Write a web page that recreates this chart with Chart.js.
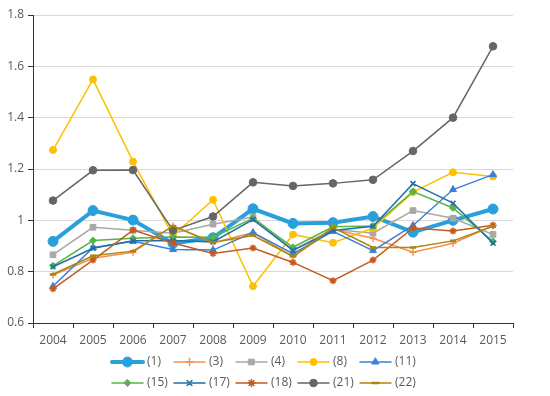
<!DOCTYPE html>
<html>
<head>
<meta charset="utf-8">
<script src="https://cdn.jsdelivr.net/npm/chart.js@4.4.1/dist/chart.umd.min.js"></script>
<style>
html,body{margin:0;padding:0;background:#fff;}
canvas{display:block;}
</style>
</head>
<body>
<canvas id="c" width="550" height="396"></canvas>
<script>
// ---- data ----
const categories = ['2004','2005','2006','2007','2008','2009','2010','2011','2012','2013','2014','2015'];
const yTicks = [0.6, 0.8, 1, 1.2, 1.4, 1.6, 1.8];
const seriesNames = ['(1)','(3)','(4)','(8)','(11)','(15)','(17)','(18)','(21)','(22)'];
const s1  = [0.918, 1.038, 1.001, 0.910, 0.932, 1.045, 0.988, 0.991, 1.015, 0.954, 1.000, 1.044];
const s3  = [0.787, 0.852, 0.876, 0.978, 0.913, 0.952, 0.858, 0.965, 0.930, 0.876, 0.911, 0.979];
const s4  = [0.866, 0.973, 0.961, 0.950, 0.985, 1.013, 0.884, 0.965, 0.950, 1.038, 1.008, 0.945];
const s8  = [1.274, 1.549, 1.229, 0.940, 1.080, 0.743, 0.945, 0.913, 0.969, 1.110, 1.187, 1.171];
const s11 = [0.743, 0.893, 0.918, 0.886, 0.884, 0.952, 0.870, 0.957, 0.882, 0.980, 1.120, 1.178];
const s15 = [0.823, 0.921, 0.930, 0.935, 0.934, 1.008, 0.895, 0.975, 0.978, 1.112, 1.048, 0.918];
const s17 = [0.819, 0.891, 0.920, 0.921, 0.916, 1.003, 0.883, 0.960, 0.977, 1.143, 1.067, 0.911];
const s18 = [0.733, 0.845, 0.962, 0.912, 0.871, 0.892, 0.836, 0.765, 0.845, 0.970, 0.958, 0.981];
const s21 = [1.077, 1.195, 1.196, 0.961, 1.015, 1.148, 1.134, 1.144, 1.158, 1.270, 1.400, 1.678];
const s22 = [0.790, 0.862, 0.880, 0.978, 0.914, 0.941, 0.860, 0.972, 0.894, 0.894, 0.920, 0.977];
const seriesValues = [s1, s3, s4, s8, s11, s15, s17, s18, s21, s22];

// ---- styles ----
const colors  = ['#29A0DC','#F5914F','#A8A8A8','#FFC000','#3A80D6','#57B446','#1F70A6','#C65A1E','#666666','#AE850E'];
const styles  = ['circle','cross','rect','circle','triangle','rectRot','crossRot','star','circle','line'];
const radii   = [5, 3.5, 4, 3.5, 4, 3.5, 3.5, 3.5, 3.8, 3];
const lineW   = [4, 1.5, 1.5, 1.5, 1.5, 1.5, 1.5, 1.5, 1.5, 1.5];
const ptBW    = [1, 1.5, 1, 1, 1, 1, 1.5, 1.5, 1, 2.5];
const textColor = '#595959';
const axisColor = '#333333';
const gridColor = '#D9D9D9';
const FONT = "'Open Sans', sans-serif";

Chart.defaults.font.family = FONT;
Chart.defaults.font.size = 12;
Chart.defaults.color = textColor;

const datasets = seriesNames.map((name, i) => ({
  label: name,
  data: seriesValues[i],
  borderColor: colors[i],
  backgroundColor: colors[i],
  pointBackgroundColor: colors[i],
  pointBorderColor: colors[i],
  pointStyle: styles[i],
  pointRadius: radii[i],
  pointBorderWidth: ptBW[i],
  borderWidth: lineW[i],
  tension: 0,
  fill: false,
  order: 20 - i
}));

function drawMarker(ctx, style, x, y, r, color, bw) {
  ctx.save();
  ctx.fillStyle = color; ctx.strokeStyle = color; ctx.lineWidth = bw;
  ctx.beginPath();
  switch (style) {
    case 'circle': ctx.arc(x, y, r, 0, Math.PI * 2); ctx.fill(); ctx.stroke(); break;
    case 'rect': { const s = r * Math.SQRT1_2; ctx.rect(x - s, y - s, 2 * s, 2 * s); ctx.fill(); ctx.stroke(); break; }
    case 'triangle':
      ctx.moveTo(x, y - r); ctx.lineTo(x + 0.866 * r, y + 0.5 * r); ctx.lineTo(x - 0.866 * r, y + 0.5 * r);
      ctx.closePath(); ctx.fill(); ctx.stroke(); break;
    case 'rectRot':
      ctx.moveTo(x, y - r); ctx.lineTo(x + r, y); ctx.lineTo(x, y + r); ctx.lineTo(x - r, y);
      ctx.closePath(); ctx.fill(); ctx.stroke(); break;
    case 'cross':
      ctx.moveTo(x, y - r); ctx.lineTo(x, y + r); ctx.moveTo(x - r, y); ctx.lineTo(x + r, y); ctx.stroke(); break;
    case 'crossRot': { const d = r * Math.SQRT1_2;
      ctx.moveTo(x - d, y - d); ctx.lineTo(x + d, y + d); ctx.moveTo(x + d, y - d); ctx.lineTo(x - d, y + d); ctx.stroke(); break; }
    case 'star': { const d = r * Math.SQRT1_2;
      ctx.moveTo(x, y - r); ctx.lineTo(x, y + r); ctx.moveTo(x - r, y); ctx.lineTo(x + r, y);
      ctx.moveTo(x - d, y - d); ctx.lineTo(x + d, y + d); ctx.moveTo(x + d, y - d); ctx.lineTo(x - d, y + d); ctx.stroke(); break; }
    case 'line':
      ctx.moveTo(x - r, y); ctx.lineTo(x + r, y); ctx.stroke(); break;
  }
  ctx.restore();
}

const legendPlugin = {
  id: 'gridLegend',
  afterDraw(chart) {
    const ctx = chart.ctx;
    const perRow = 5, colStart = 112, colStep = 62, lineLen = 31;
    const rowY = [362, 383];
    ctx.save();
    ctx.font = '12px ' + FONT;
    ctx.textBaseline = 'middle';
    ctx.textAlign = 'left';
    chart.data.datasets.forEach((ds, i) => {
      const row = Math.floor(i / perRow), col = i % perRow;
      const x = colStart + col * colStep, y = rowY[row];
      ctx.beginPath();
      ctx.strokeStyle = ds.borderColor;
      ctx.lineWidth = ds.borderWidth;
      ctx.lineCap = 'round';
      ctx.moveTo(x, y); ctx.lineTo(x + lineLen, y); ctx.stroke();
      drawMarker(ctx, ds.pointStyle, x + lineLen / 2, y, ds.pointRadius, ds.borderColor, ds.pointBorderWidth);
      ctx.fillStyle = textColor;
      ctx.fillText(ds.label, x + lineLen + 4, y);
    });
    ctx.restore();
  }
};

new Chart(document.getElementById('c'), {
  type: 'line',
  data: { labels: categories, datasets },
  plugins: [legendPlugin],
  options: {
    responsive: false,
    animation: false,
    devicePixelRatio: 1,
    layout: { padding: { left: 0, right: 37, top: 15, bottom: 45 } },
    plugins: { legend: { display: false }, tooltip: { enabled: false } },
    scales: {
      x: {
        type: 'category',
        offset: true,
        grid: { offset: true, drawOnChartArea: false, drawTicks: true, tickLength: 5, tickColor: axisColor, lineWidth: 1 },
        border: { display: true, color: axisColor, width: 1 },
        ticks: { padding: 5, color: textColor, maxRotation: 0, autoSkip: false, font: { size: 12 } },
        afterFit(scale) { scale.height = 28; }
      },
      y: {
        type: 'linear',
        min: 0.6, max: 1.8,
        afterBuildTicks(scale) { scale.ticks = yTicks.map(v => ({ value: v })); },
        grid: { color: gridColor, lineWidth: 1, tickLength: 5, tickColor: axisColor, drawTicks: true },
        border: { display: true, color: axisColor, width: 1 },
        ticks: { padding: 4, color: textColor, font: { size: 12 },
          callback: (v) => String(Number(Number(v).toFixed(1))) },
        afterFit(scale) { scale.width = 33; }
      }
    }
  }
});
</script>
</body>
</html>
